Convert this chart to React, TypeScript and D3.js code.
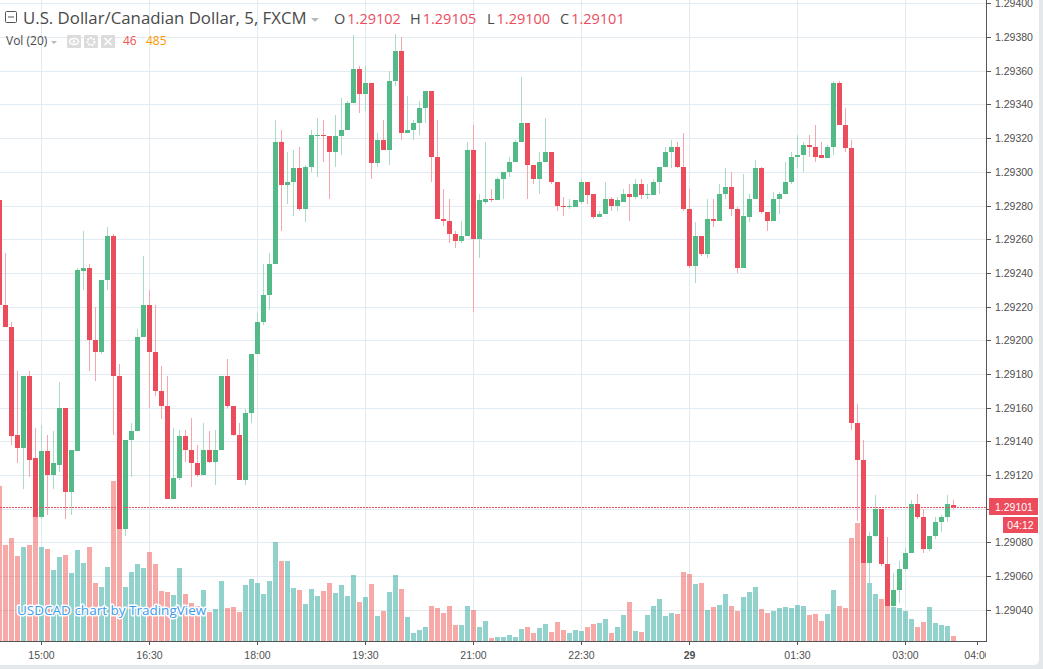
import React, { useEffect } from "react";
import * as d3 from "d3";

// ---- DATA (5-minute bars, USDCAD, FXCM) ----
const startTime = Date.UTC(2018, 4, 28, 14, 25); // first visible bar
const barMinutes = 5;

const open = [
  1.29283, 1.29221, 1.29208, 1.29144, 1.29136, 1.29179, 1.2913, 1.29095, 1.29134, 1.2912,
  1.29126, 1.2916, 1.2911, 1.29134, 1.29241, 1.29243, 1.292, 1.29193, 1.29236, 1.29262,
  1.29179, 1.29088, 1.29141, 1.29146, 1.29202, 1.29221, 1.29193, 1.2917, 1.29161, 1.29106,
  1.29118, 1.29143, 1.29135, 1.29127, 1.2912, 1.29135, 1.29128, 1.29135, 1.29179, 1.29161,
  1.29144, 1.29117, 1.29157, 1.29192, 1.29211, 1.29227, 1.29245, 1.29318, 1.29292, 1.29294,
  1.29302, 1.29278, 1.29303, 1.29321, 1.29322, 1.29321, 1.29312, 1.29321, 1.29325, 1.29341,
  1.29361, 1.29346, 1.29353, 1.29305, 1.29319, 1.29313, 1.29354, 1.29372, 1.29323, 1.29325,
  1.29329, 1.29338, 1.29348, 1.29309, 1.29272, 1.29271, 1.29263, 1.29259, 1.29262, 1.29313,
  1.2926, 1.29282, 1.29284, 1.29283, 1.29296, 1.293, 1.29306, 1.29318, 1.29329, 1.29304,
  1.29296, 1.29306, 1.29312, 1.29294, 1.2928, 1.29279, 1.29279, 1.29282, 1.29294, 1.29287,
  1.29273, 1.29275, 1.29284, 1.2928, 1.29282, 1.29287, 1.29285, 1.29293, 1.29286, 1.29286,
  1.29294, 1.29303, 1.29312, 1.29315, 1.29303, 1.29278, 1.29244, 1.29262, 1.29251, 1.29272,
  1.29271, 1.29287, 1.29291, 1.29278, 1.29243, 1.29273, 1.29284, 1.29302, 1.29276, 1.29271,
  1.29284, 1.29287, 1.29294, 1.29309, 1.2931, 1.29316, 1.29315, 1.2931, 1.29308, 1.29315,
  1.29353, 1.29328, 1.29314, 1.29151, 1.29129, 1.29068, 1.29084, 1.291, 1.29067, 1.29042,
  1.29052, 1.29064, 1.29074, 1.29103, 1.29095, 1.29076, 1.29084, 1.29092, 1.29095, 1.29102,
];
const high = [
  1.29284, 1.29252, 1.29211, 1.29182, 1.29179, 1.29182, 1.29148, 1.2915, 1.29144, 1.29146,
  1.29175, 1.2916, 1.29135, 1.29243, 1.29265, 1.29245, 1.2922, 1.29236, 1.29267, 1.29263,
  1.29186, 1.29141, 1.29151, 1.29207, 1.2925, 1.2923, 1.29221, 1.29185, 1.29179, 1.29148,
  1.29147, 1.29147, 1.29154, 1.29138, 1.29151, 1.29146, 1.29147, 1.29179, 1.29189, 1.29161,
  1.29151, 1.29159, 1.29192, 1.29216, 1.29245, 1.29252, 1.29331, 1.29325, 1.29312, 1.29313,
  1.29315, 1.29304, 1.29325, 1.29332, 1.29331, 1.29321, 1.29334, 1.29344, 1.29342, 1.29381,
  1.29363, 1.29363, 1.29353, 1.29323, 1.29331, 1.2936, 1.29382, 1.2938, 1.29345, 1.29331,
  1.29342, 1.29348, 1.29348, 1.29331, 1.2929, 1.29284, 1.29265, 1.29271, 1.29318, 1.29328,
  1.29287, 1.29318, 1.2929, 1.29297, 1.293, 1.29309, 1.29319, 1.29356, 1.29329, 1.29304,
  1.29312, 1.29332, 1.29312, 1.29294, 1.29285, 1.29284, 1.29283, 1.29296, 1.29294, 1.29287,
  1.29277, 1.29294, 1.29285, 1.29285, 1.2929, 1.29293, 1.29296, 1.29296, 1.29293, 1.29296,
  1.29303, 1.29315, 1.29319, 1.29318, 1.29323, 1.2929, 1.2927, 1.29262, 1.29284, 1.29284,
  1.29293, 1.29302, 1.293, 1.29279, 1.29299, 1.29287, 1.29307, 1.29303, 1.29276, 1.29288,
  1.29288, 1.29306, 1.29312, 1.29322, 1.29318, 1.29322, 1.29328, 1.29318, 1.29316, 1.29354,
  1.29354, 1.29338, 1.29319, 1.29162, 1.29141, 1.29086, 1.29108, 1.291, 1.29083, 1.29062,
  1.29069, 1.29077, 1.29105, 1.29109, 1.291, 1.29084, 1.29095, 1.29096, 1.29108, 1.29105,
];
const low = [
  1.2922, 1.29208, 1.29138, 1.29127, 1.29112, 1.29119, 1.29093, 1.29094, 1.29096, 1.29112,
  1.29122, 1.29094, 1.29096, 1.29134, 1.2923, 1.29182, 1.29176, 1.29192, 1.2923, 1.29144,
  1.29088, 1.29084, 1.29119, 1.29146, 1.29202, 1.2916, 1.29167, 1.29153, 1.29106, 1.29106,
  1.29117, 1.29128, 1.29113, 1.29119, 1.2912, 1.29127, 1.29114, 1.29135, 1.2916, 1.29143,
  1.29117, 1.29114, 1.29151, 1.29192, 1.29209, 1.29218, 1.29245, 1.29265, 1.29281, 1.29274,
  1.29277, 1.2927, 1.293, 1.29297, 1.29306, 1.29284, 1.29303, 1.2931, 1.29325, 1.29341,
  1.29335, 1.29336, 1.29296, 1.29303, 1.29313, 1.29304, 1.29351, 1.29319, 1.29323, 1.29319,
  1.29322, 1.29329, 1.29294, 1.29272, 1.29268, 1.29258, 1.29255, 1.29258, 1.29262, 1.29217,
  1.29249, 1.29281, 1.29282, 1.29283, 1.29284, 1.29297, 1.29306, 1.29318, 1.29284, 1.29293,
  1.29287, 1.29306, 1.29293, 1.29277, 1.29274, 1.29278, 1.29279, 1.29281, 1.29281, 1.29272,
  1.29273, 1.29275, 1.29277, 1.29277, 1.29282, 1.29271, 1.29284, 1.29284, 1.29284, 1.29286,
  1.29287, 1.29303, 1.29302, 1.29302, 1.29277, 1.29243, 1.29234, 1.2925, 1.29249, 1.29267,
  1.29271, 1.29284, 1.29274, 1.2924, 1.29243, 1.2927, 1.29284, 1.29275, 1.29265, 1.29271,
  1.29275, 1.29287, 1.29293, 1.29302, 1.293, 1.29309, 1.29306, 1.29308, 1.29308, 1.2931,
  1.29328, 1.29312, 1.29147, 1.29093, 1.29068, 1.29056, 1.29083, 1.29066, 1.29041, 1.29041,
  1.29044, 1.29063, 1.29074, 1.29094, 1.29074, 1.29075, 1.29082, 1.29086, 1.29092, 1.291,
];
const close = [
  1.29221, 1.29208, 1.29143, 1.29136, 1.29179, 1.29129, 1.29095, 1.29134, 1.2912, 1.29127,
  1.2916, 1.2911, 1.29135, 1.29242, 1.29243, 1.292, 1.29193, 1.29236, 1.29262, 1.29179,
  1.29088, 1.29141, 1.29146, 1.29202, 1.29221, 1.29193, 1.2917, 1.29161, 1.29106, 1.29118,
  1.29143, 1.29135, 1.29127, 1.2912, 1.29135, 1.29128, 1.29135, 1.29179, 1.29161, 1.29144,
  1.29117, 1.29157, 1.29192, 1.29211, 1.29227, 1.29245, 1.29318, 1.29292, 1.29294, 1.29302,
  1.29278, 1.29303, 1.29322, 1.29322, 1.29321, 1.29312, 1.29321, 1.29325, 1.29341, 1.29361,
  1.29346, 1.29353, 1.29305, 1.29319, 1.29313, 1.29354, 1.29372, 1.29323, 1.29325, 1.29329,
  1.29338, 1.29348, 1.29309, 1.29272, 1.29271, 1.29263, 1.29259, 1.29262, 1.29313, 1.2926,
  1.29283, 1.29284, 1.29283, 1.29296, 1.293, 1.29306, 1.29318, 1.29329, 1.29304, 1.29296,
  1.29306, 1.29312, 1.29294, 1.2928, 1.29279, 1.2928, 1.29283, 1.29294, 1.29286, 1.29273,
  1.29275, 1.29284, 1.2928, 1.29283, 1.29287, 1.29285, 1.29293, 1.29286, 1.29287, 1.29294,
  1.29303, 1.29312, 1.29315, 1.29303, 1.29278, 1.29244, 1.29262, 1.29251, 1.29272, 1.29271,
  1.29287, 1.29291, 1.29278, 1.29243, 1.29274, 1.29284, 1.29302, 1.29276, 1.29271, 1.29284,
  1.29287, 1.29294, 1.29309, 1.2931, 1.29316, 1.29315, 1.29309, 1.29308, 1.29315, 1.29353,
  1.29328, 1.29314, 1.29151, 1.29129, 1.29068, 1.29084, 1.291, 1.29067, 1.29042, 1.29052,
  1.29064, 1.29074, 1.29103, 1.29095, 1.29076, 1.29084, 1.29092, 1.29095, 1.29103, 1.29101,
];
const volume = [
  1426, 883, 948, 782, 865, 883, 1141, 865, 846, 653,
  773, 791, 626, 837, 718, 865, 534, 497, 681, 1472,
  1030, 497, 635, 708, 672, 819, 708, 460, 451, 423,
  672, 432, 350, 322, 469, 267, 294, 552, 304, 313,
  267, 515, 570, 534, 432, 552, 911, 736, 736, 488,
  469, 340, 478, 414, 460, 534, 442, 515, 414, 607,
  359, 405, 524, 230, 276, 451, 607, 478, 221, 74,
  101, 129, 322, 304, 258, 322, 147, 147, 322, 285,
  129, 184, 28, 37, 37, 55, 37, 110, 129, 74,
  120, 156, 83, 175, 101, 74, 101, 92, 129, 156,
  166, 202, 74, 129, 239, 359, 92, 83, 239, 322,
  386, 230, 258, 248, 635, 616, 524, 534, 285, 313,
  331, 432, 322, 276, 405, 451, 497, 294, 258, 276,
  304, 313, 304, 331, 322, 239, 248, 184, 248, 469,
  322, 304, 948, 1086, 727, 534, 432, 386, 322, 313,
  304, 276, 202, 129, 175, 313, 166, 147, 138, 46,
];

const priceTicks = [
  1.2904, 1.2906, 1.2908, 1.291, 1.2912, 1.2914, 1.2916, 1.2918, 1.292, 1.2922,
  1.2924, 1.2926, 1.2928, 1.293, 1.2932, 1.2934, 1.2936, 1.2938, 1.294,
];
const timeTicks = [
  { t: Date.UTC(2018, 4, 28, 15, 0), label: "15:00", grid: true, bold: false },
  { t: Date.UTC(2018, 4, 28, 16, 30), label: "16:30", grid: true, bold: false },
  { t: Date.UTC(2018, 4, 28, 18, 0), label: "18:00", grid: true, bold: false },
  { t: Date.UTC(2018, 4, 28, 19, 30), label: "19:30", grid: true, bold: false },
  { t: Date.UTC(2018, 4, 28, 21, 0), label: "21:00", grid: true, bold: false },
  { t: Date.UTC(2018, 4, 28, 22, 30), label: "22:30", grid: true, bold: false },
  { t: Date.UTC(2018, 4, 29, 0, 0), label: "29", grid: true, bold: true },
  { t: Date.UTC(2018, 4, 29, 1, 30), label: "01:30", grid: true, bold: false },
  { t: Date.UTC(2018, 4, 29, 3, 0), label: "03:00", grid: true, bold: false },
  { t: Date.UTC(2018, 4, 29, 4, 0), label: "04:00", grid: false, bold: false },
];

const lastPrice = 1.29101;
const headerOHLC = [
  { k: "O", v: "1.29102" },
  { k: "H", v: "1.29105" },
  { k: "L", v: "1.29100" },
  { k: "C", v: "1.29101" },
];

// ---- LAYOUT ----
const W = 1043;
const H = 669;
const plotR = 986;
const plotB = 641;
const UP = "#53b987";
const DOWN = "#eb4d5c";
const UP_WICK = "#a9dcc3";
const DOWN_WICK = "#f5a6ad";
const GRID = "#e2ebf1";
const AXIS = "#555555";
const TXT = "#4f4f4f";

export default function App() {
  useEffect(() => {
    document.body.style.margin = "0";
  }, []);

  const t0 = new Date(startTime);
  const t1 = new Date(startTime + barMinutes * 60000);
  const x = d3.scaleUtc().domain([t0, t1]).range([-0.5, 5.5]);
  const y = d3.scaleLinear().domain([1.290215, 1.29402]).range([plotB, 0]);
  const vy = d3.scaleLinear().domain([0, 1500]).range([plotB, plotB - 1500 / 9.2]);

  const bars = open.map((o, i) => {
    const t = new Date(startTime + i * barMinutes * 60000);
    const cx = x(t);
    const left = Math.round(cx - 2.5);
    const up = close[i] >= o;
    const yo = Math.round(y(o));
    const yc = Math.round(y(close[i]));
    const top = Math.min(yo, yc);
    const h = Math.max(1, Math.abs(yo - yc));
    return {
      i,
      left,
      up,
      top,
      h,
      yh: Math.round(y(high[i])),
      yl: Math.round(y(low[i])),
      vtop: Math.round(vy(volume[i])),
    };
  });

  const fmt = d3.format(".5f");
  const yLast = Math.round(y(lastPrice));
  const dots = d3.range(0, plotR - 1, 3);

  return (
    <svg
      width={W}
      height={H}
      style={{ position: "absolute", left: 0, top: 0, display: "block" }}
      fontFamily="'Liberation Sans', Arial, sans-serif"
    >
      <defs>
        <clipPath id="plot">
          <rect x={0} y={0} width={plotR} height={plotB} />
        </clipPath>
        <clipPath id="timeaxis">
          <rect x={0} y={plotB} width={plotR} height={H - plotB} />
        </clipPath>
      </defs>
      <rect x={0} y={0} width={W} height={H} fill="#e4e8eb" />
      <rect x={-8} y={-8} width={1047} height={673} rx={5} fill="#ffffff" />

      {/* grid */}
      <g shapeRendering="crispEdges">
        {priceTicks.map((p) => (
          <line key={p} x1={0} x2={plotR} y1={Math.round(y(p)) + 0.5} y2={Math.round(y(p)) + 0.5} stroke={GRID} />
        ))}
        {timeTicks
          .filter((d) => d.grid)
          .map((d) => {
            const gx = Math.round(x(new Date(d.t)) - 0.5) + 0.5;
            return <line key={d.label} x1={gx} x2={gx} y1={0} y2={plotB} stroke={GRID} />;
          })}
      </g>

      <g clipPath="url(#plot)" shapeRendering="crispEdges">
        {/* volume */}
        {bars.map((b) => (
          <rect
            key={"v" + b.i}
            x={b.left}
            y={b.vtop}
            width={5}
            height={plotB - b.vtop}
            fill={b.up ? "#26a69a" : "#ef5350"}
            fillOpacity={0.5}
          />
        ))}
        {/* wicks */}
        {bars.map((b) => (
          <rect
            key={"w" + b.i}
            x={b.left + 2}
            y={b.yh}
            width={1}
            height={Math.max(1, b.yl - b.yh)}
            fill={b.up ? UP_WICK : DOWN_WICK}
          />
        ))}
        {/* bodies */}
        {bars.map((b) => (
          <rect key={"b" + b.i} x={b.left} y={b.top} width={5} height={b.h} fill={b.up ? UP : DOWN} />
        ))}
        {/* last price line (dotted) */}
        {dots.map((dx) => (
          <rect key={"d" + dx} x={dx} y={yLast} width={2} height={1} fill={DOWN} />
        ))}
      </g>

      {/* watermark */}
      <text
        x={17}
        y={615}
        fontFamily="'Open Sans', sans-serif"
        fontSize={13.5}
        fill="#3d9bef"
        stroke="#ffffff"
        strokeWidth={3}
        paintOrder="stroke"
        strokeLinejoin="round"
      >
        USDCAD chart by TradingView
      </text>

      {/* axes */}
      <g shapeRendering="crispEdges">
        <line x1={plotR + 0.5} x2={plotR + 0.5} y1={0} y2={plotB + 1} stroke={AXIS} />
        <line x1={0} x2={plotR + 1} y1={plotB + 0.5} y2={plotB + 0.5} stroke={AXIS} />
        {priceTicks.map((p) => {
          const py = Math.round(y(p)) + 0.5;
          return <line key={"pt" + p} x1={plotR + 1} x2={plotR + 5} y1={py} y2={py} stroke={AXIS} />;
        })}
        {timeTicks.map((d) => {
          const gx = Math.round(x(new Date(d.t)) - 0.5) + 0.5;
          return <line key={"tt" + d.label} x1={gx} x2={gx} y1={plotB + 1} y2={plotB + 4} stroke={AXIS} />;
        })}
      </g>
      {priceTicks.map((p) => (
        <text key={"pl" + p} x={995} y={y(p) + 4} fontSize={10.5} fill={TXT}>
          {fmt(p)}
        </text>
      ))}
      <g clipPath="url(#timeaxis)">
        {timeTicks.map((d) => (
          <text
            key={"tl" + d.label}
            x={x(new Date(d.t))}
            y={659}
            fontSize={10.5}
            fill={TXT}
            textAnchor="middle"
            fontWeight={d.bold ? "bold" : "normal"}
          >
            {d.label}
          </text>
        ))}
      </g>

      {/* last price labels */}
      <rect x={989} y={498} width={49} height={17} fill={DOWN} />
      <text x={995} y={511} fontSize={10.5} fill="#ffffff">
        {fmt(lastPrice)}
      </text>
      <rect x={1003} y={517} width={35} height={16} fill={DOWN} />
      <text x={1020.5} y={529} fontSize={10.5} fill="#ffffff" textAnchor="middle">
        04:12
      </text>

      {/* header */}
      <g fontFamily="'Open Sans', sans-serif">
        <rect x={5.5} y={11.5} width={11} height={11} fill="none" stroke="#555" rx={1} />
        <line x1={8} x2={14} y1={17} y2={17} stroke="#555" />
        <text x={23} y={24} fontSize={16.8} fill="#4a4a4a">
          U.S. Dollar/Canadian Dollar, 5, FXCM
        </text>
        <path d="M311,18 L319,18 L315,22 Z" fill="#b8b8b8" />
        <text y={24} fontSize={14.5}>
          {headerOHLC.map((d, i) => (
            <React.Fragment key={d.k}>
              <tspan x={[334, 410, 487, 560][i]} fill="#4a4a4a">
                {d.k}
              </tspan>
              <tspan dx={2} fill={DOWN}>
                {d.v}
              </tspan>
            </React.Fragment>
          ))}
        </text>
        <text x={6} y={45} fontSize={12} fill="#4a4a4a">
          Vol (20)
        </text>
        <path d="M51,41 L57,41 L54,44 Z" fill="#b8b8b8" />
        {[67, 84, 101].map((ix) => (
          <rect key={ix} x={ix} y={35} width={14} height={13} rx={1} fill="#dcdcdc" />
        ))}
        <ellipse cx={74} cy={41.5} rx={4.5} ry={3} fill="none" stroke="#fff" strokeWidth={1.5} />
        <circle cx={74} cy={41.5} r={1.3} fill="#fff" />
        <circle cx={91} cy={41.5} r={3.5} fill="none" stroke="#fff" strokeWidth={2} strokeDasharray="2,1" />
        <path d="M104.5,38 L111.5,45 M111.5,38 L104.5,45" stroke="#fff" strokeWidth={1.6} />
        <text x={123} y={45} fontSize={12} fill="#ef5350">
          46
        </text>
        <text x={146} y={45} fontSize={12} fill="#ff9800">
          485
        </text>
      </g>
    </svg>
  );
}
